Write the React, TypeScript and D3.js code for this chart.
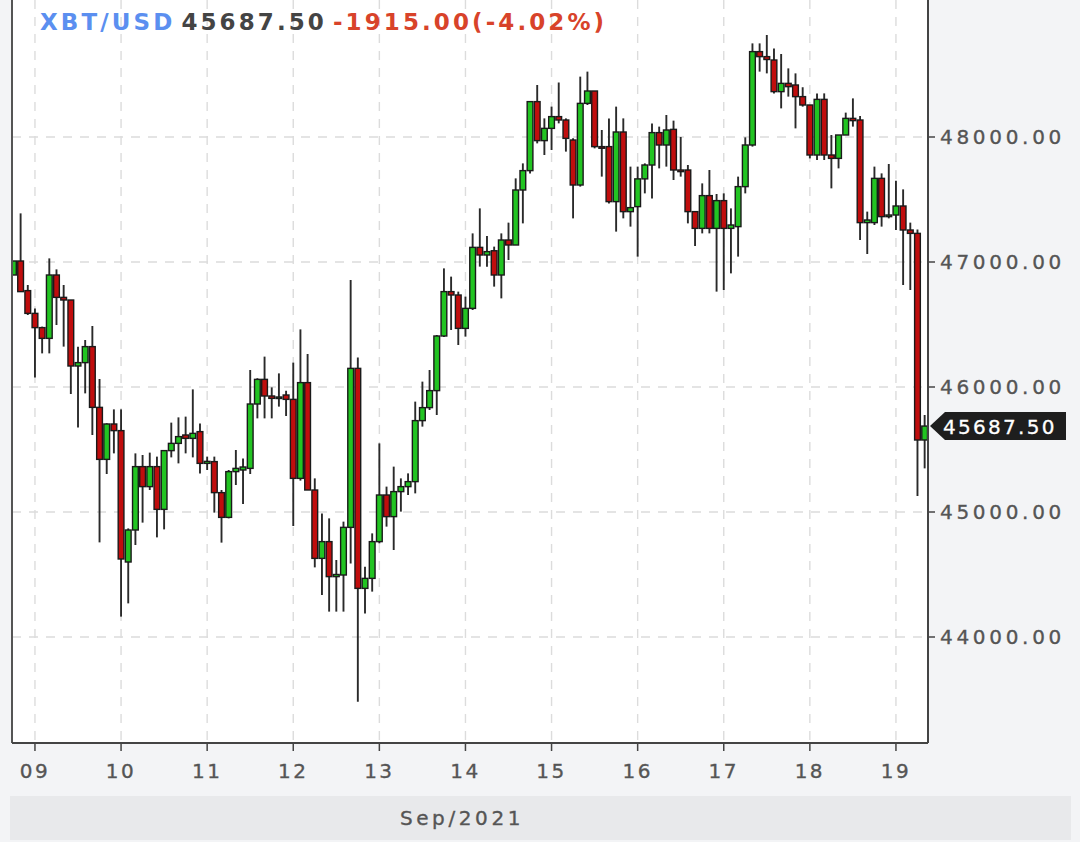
import React from "react";
import * as d3 from "d3";

// 2-hour candles, first candle starts 2021-09-08 18:00 UTC
const FIRST_CANDLE = Date.UTC(2021, 8, 8, 18);
const CANDLE_HOURS = 2;

const opens = [
  46896, 47008, 46771, 46589, 46475, 46389, 46896, 46717, 46696, 46168,
  46195, 46323, 45837, 45421, 45704, 45651, 44600, 44856, 45363, 45203,
  45363, 45021, 45491, 45549, 45616, 45589, 45643, 45389, 45403, 45155,
  44957, 45323, 45336, 45349, 45864, 46061, 45928, 45909, 45936, 45901,
  45269, 46035, 45176, 44629, 44763, 44483, 44496, 44877, 46149, 44389,
  44469, 44763, 45136, 44963, 45163, 45203, 45243, 45731, 45835, 45971,
  46408, 46763, 46736, 46469, 46629, 47117, 47056, 47090, 46896, 47176,
  47136, 47576, 47731, 48283, 47971, 48069, 48163, 48136, 47976, 47616,
  48269, 48368, 47923, 47923, 47483, 48040, 47403, 47443, 47665, 47776,
  48035, 47936, 48061, 47736, 47736, 47403, 47269, 47531, 47269, 47491,
  47269, 47283, 47603, 47936, 48683, 48643, 48616, 48363, 48429, 48416,
  48323, 48256, 47856, 48301, 47856, 47829, 48016, 48149, 48136, 47315,
  47315, 47669, 47363, 47376, 47448, 47256, 47229, 45576,
];
const highs = [
  47008, 47389, 46816, 46629, 46483, 47029, 46941, 46816, 46696, 46323,
  46376, 46488, 46064, 45710, 45821, 45821, 44869, 45469, 45456, 45475,
  45443, 45491, 45715, 45757, 45763, 45981, 45709, 45443, 45443, 45176,
  45336, 45496, 45429, 46136, 46070, 46243, 45997, 46109, 45970, 46195,
  46461, 46264, 45269, 44989, 44949, 44616, 44923, 46856, 46237, 44563,
  44829, 45549, 45203, 45363, 45269, 45309, 45883, 46043, 46136, 46416,
  46949, 46883, 46763, 46723, 47229, 47429, 47208, 47123, 47229, 47315,
  47669, 47789, 48283, 48416, 48149, 48243, 48436, 48149, 47990, 48483,
  48523, 48368, 48056, 48149, 48243, 48149, 47763, 47763, 47789, 48109,
  48083, 48176, 48131, 48000, 47776, 47403, 47629, 47736, 47544, 47549,
  47429, 47683, 47997, 48749, 48749, 48816, 48709, 48664, 48549, 48509,
  48398, 48256, 48349, 48349, 48016, 48016, 48195, 48309, 48168, 47403,
  47763, 47709, 47784, 47651, 47581, 47315, 47261, 45776,
];
const lows = [
  46896, 46763, 46576, 46077, 46269, 46269, 46496, 46323, 45944, 45677,
  45949, 45616, 44757, 45304, 45469, 44163, 44269, 44736, 44915, 45176,
  44797, 44861, 45437, 45389, 45469, 45437, 45309, 45336, 44995, 44755,
  44949, 45216, 45064, 45304, 45749, 45749, 45749, 45843, 45768, 44888,
  45251, 45176, 44557, 44336, 44203, 44203, 44203, 44589, 43483, 44189,
  44363, 44749, 44883, 44696, 45003, 45136, 45149, 45683, 45816, 45776,
  46400, 46456, 46336, 46403, 46616, 46963, 46963, 46803, 46709, 47016,
  47136, 47309, 47709, 47949, 47856, 47896, 48109, 47883, 47349, 47603,
  48256, 47909, 47683, 47469, 47243, 47349, 47283, 47043, 47549, 47509,
  47749, 47763, 47656, 47683, 47309, 47128, 47229, 47229, 46763, 46776,
  46909, 47043, 47549, 47923, 48523, 48509, 48349, 48229, 48323, 48069,
  48243, 47829, 47816, 47816, 47589, 47749, 48016, 48083, 47176, 47064,
  47296, 47283, 47349, 47256, 46816, 46776, 45128, 45349,
];
const closes = [
  47008, 46763, 46589, 46475, 46389, 46896, 46717, 46696, 46168, 46195,
  46323, 45837, 45421, 45704, 45651, 44624, 44856, 45363, 45203, 45363,
  45021, 45491, 45549, 45603, 45589, 45629, 45389, 45405, 45155, 44957,
  45323, 45349, 45360, 45864, 46061, 45928, 45909, 45920, 45901, 45269,
  46035, 45176, 44629, 44763, 44483, 44500, 44877, 46149, 44389, 44469,
  44763, 45136, 44963, 45163, 45203, 45243, 45731, 45835, 45971, 46408,
  46763, 46736, 46469, 46629, 47117, 47056, 47083, 46896, 47176, 47136,
  47576, 47731, 48283, 47971, 48069, 48163, 48136, 47989, 47616, 48269,
  48368, 47923, 47910, 47483, 48040, 47403, 47435, 47665, 47776, 48035,
  47936, 48056, 47736, 47723, 47403, 47269, 47531, 47269, 47491, 47269,
  47296, 47603, 47936, 48683, 48643, 48620, 48363, 48429, 48403, 48323,
  48256, 47856, 48301, 47856, 47829, 48016, 48149, 48131, 47315, 47336,
  47669, 47363, 47376, 47448, 47256, 47229, 45576, 45687.5,
];

const priceTicks = [44000, 45000, 46000, 47000, 48000];
const dayTicks = [9, 10, 11, 12, 13, 14, 15, 16, 17, 18, 19];
const dayLabels = ["09", "10", "11", "12", "13", "14", "15", "16", "17", "18", "19"];
const monthLabel = "Sep/2021";
const symbol = "XBT/USD";
const lastPrice = "45687.50";
const change = "-1915.00(-4.02%)";

const W = 1080;
const H = 842;
const PL = 12;
const PR = 928;
const PT = 0;
const PB = 743;

export default function App() {
  const x = d3
    .scaleUtc()
    .domain([new Date(Date.UTC(2021, 8, 8, 17, 36)), new Date(Date.UTC(2021, 8, 19, 8, 56))])
    .range([PL, PR]);
  const y = d3.scaleLinear().domain([43152, 49096]).range([PB, PT]);

  const candles = opens.map((o, i) => ({
    t: new Date(FIRST_CANDLE + i * CANDLE_HOURS * 3600 * 1000),
    o,
    h: highs[i],
    l: lows[i],
    c: closes[i],
  }));
  const step = x(new Date(FIRST_CANDLE + CANDLE_HOURS * 3600 * 1000)) - x(new Date(FIRST_CANDLE));
  const bw = step * 0.8;

  const font = "'DejaVu Sans', Verdana, sans-serif";
  const lastY = y(closes[closes.length - 1]);

  return (
    <svg
      width={W}
      height={H}
      style={{ position: "absolute", left: 0, top: 0, background: "#f3f4f6" }}
    >
      <defs>
        <clipPath id="plotclip">
          <rect x={PL} y={PT} width={PR - PL} height={PB - PT} />
        </clipPath>
      </defs>
      <rect x={0} y={0} width={W} height={H} fill="#f3f4f6" />
      <rect x={PL} y={PT} width={PR - PL} height={PB - PT} fill="#ffffff" />
      {/* bottom band */}
      <rect x={10} y={796} width={1061} height={44} fill="#e8e9eb" />

      {/* grid */}
      <g stroke="#dcdcdc" strokeWidth={1.4} strokeDasharray="9,8">
        {priceTicks.map((p) => (
          <line key={p} x1={PL} x2={PR} y1={y(p)} y2={y(p)} />
        ))}
        {dayTicks.map((d) => {
          const xx = x(new Date(Date.UTC(2021, 8, d)));
          return <line key={d} x1={xx} x2={xx} y1={PT} y2={PB} />;
        })}
      </g>

      {/* candles */}
      <g clipPath="url(#plotclip)">
        {candles.map((k, i) => {
          const cx = x(k.t);
          const up = k.c >= k.o;
          const top = y(Math.max(k.o, k.c));
          const bot = y(Math.min(k.o, k.c));
          return (
            <g key={i}>
              <line x1={cx} x2={cx} y1={y(k.h)} y2={y(k.l)} stroke="#2a2a2a" strokeWidth={1.9} />
              <rect
                x={cx - bw / 2}
                y={top}
                width={bw}
                height={Math.max(bot - top, 1.5)}
                fill={up ? "#22c422" : "#c00d0d"}
                stroke="#1a1a1a"
                strokeWidth={1.4}
              />
            </g>
          );
        })}
      </g>

      {/* frame */}
      <line x1={PL} x2={PL} y1={PT} y2={PB} stroke="#555" strokeWidth={2} />
      <line x1={PL} x2={PR} y1={PB} y2={PB} stroke="#444" strokeWidth={2} />
      <line x1={PR} x2={PR} y1={PT} y2={PB} stroke="#444" strokeWidth={2} />

      {/* y axis */}
      {priceTicks.map((p) => (
        <g key={p}>
          <line x1={PR} x2={PR + 7} y1={y(p)} y2={y(p)} stroke="#444" strokeWidth={1.5} />
          <text
            x={940}
            y={y(p) + 7}
            fontFamily={font}
            fontSize={20}
            letterSpacing={3.7}
            fill="#555"
            stroke="#555"
            strokeWidth={0.35}
          >
            {d3.format(".2f")(p)}
          </text>
        </g>
      ))}

      {/* x axis */}
      {dayTicks.map((d, i) => {
        const xx = x(new Date(Date.UTC(2021, 8, d)));
        return (
          <g key={d}>
            <line x1={xx} x2={xx} y1={PB} y2={PB + 8} stroke="#444" strokeWidth={1.5} />
            <text
              x={xx}
              y={778}
              textAnchor="middle"
              fontFamily={font}
              fontSize={20}
              letterSpacing={2.5}
              fill="#555"
              stroke="#555"
              strokeWidth={0.35}
            >
              {dayLabels[i]}
            </text>
          </g>
        );
      })}
      <text
        x={462}
        y={825}
        textAnchor="middle"
        fontFamily={font}
        fontSize={20}
        letterSpacing={3.6}
        fill="#555"
        stroke="#555"
        strokeWidth={0.35}
      >
        {monthLabel}
      </text>

      {/* last price marker */}
      <g>
        <path
          d={`M${PR + 2},${lastY} L${PR + 17},${lastY - 14} L1066,${lastY - 14} L1066,${lastY + 14} L${PR + 17},${lastY + 14} Z`}
          fill="#1e1e1e"
        />
        <text
          x={943}
          y={lastY + 8}
          fontFamily={font}
          fontSize={20}
          letterSpacing={2.3}
          fill="#ffffff"
          stroke="#ffffff"
          strokeWidth={0.3}
        >
          {lastPrice}
        </text>
      </g>

      {/* header */}
      <text x={40} y={30} fontFamily={font} fontSize={23} fontWeight="bold" letterSpacing={3.1}>
        <tspan fill="#5b8ff0">{symbol}</tspan>
        <tspan fill="#444" dx={6}>{lastPrice}</tspan>
        <tspan fill="#d8432a" dx={6}>{change}</tspan>
      </text>
    </svg>
  );
}
